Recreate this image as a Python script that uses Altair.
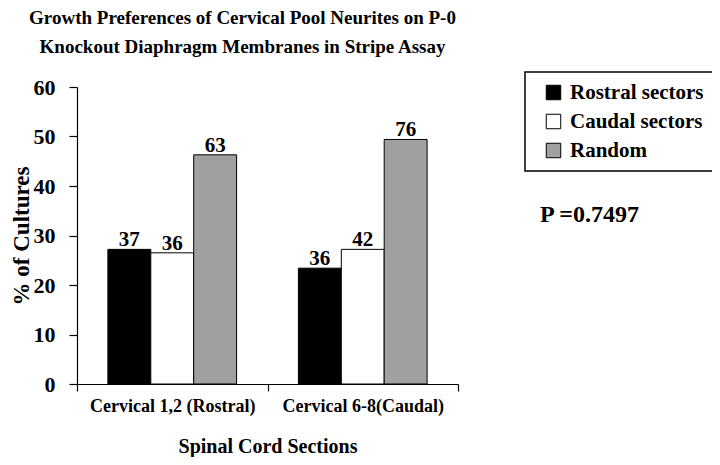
import altair as alt
import pandas as pd

groups = ["Cervical 1,2 (Rostral)", "Cervical 6-8(Caudal)"]
series = ["Rostral sectors", "Caudal sectors", "Random"]
pct_g1 = [27.2, 26.5, 46.3]
pct_g2 = [23.4, 27.2, 49.4]
counts_g1 = [37, 36, 63]
counts_g2 = [36, 42, 76]
colors = ["#000000", "#ffffff", "#a0a0a0"]
p_text = "P =0.7497"

rows = []
for g, pcts, cnts in [(groups[0], pct_g1, counts_g1), (groups[1], pct_g2, counts_g2)]:
    for s, p, c in zip(series, pcts, cnts):
        rows.append({"group": g, "series": s, "pct": p, "count": c})
df = pd.DataFrame(rows)

FONT = "'Liberation Serif', 'Times New Roman', Times, serif"

x_enc = alt.X("group:N", sort=groups, scale=alt.Scale(paddingInner=0, paddingOuter=0),
              axis=alt.Axis(title="Spinal Cord Sections", labelAngle=0, tickBand="extent",
                            tickSize=7, labelPadding=6, titlePadding=21,
                            labelFontSize=18, titleFontSize=20))
xo_enc = alt.XOffset("series:N", sort=series,
                     scale=alt.Scale(paddingInner=0, paddingOuter=0.72))

bars = alt.Chart(df).mark_bar(stroke="black", strokeWidth=1).encode(
    x=x_enc,
    xOffset=xo_enc,
    y=alt.Y("pct:Q", scale=alt.Scale(domain=[0, 60]),
            axis=alt.Axis(title="% of Cultures", values=[0, 10, 20, 30, 40, 50, 60],
                          grid=False, tickSize=8, labelPadding=14, titlePadding=0,
                          labelFontSize=22, titleFontSize=23)),
    color=alt.Color("series:N", sort=series,
                    scale=alt.Scale(domain=series, range=colors),
                    legend=alt.Legend(title=None, orient="none", legendX=448, legendY=-15,
                                      symbolType="square", symbolSize=210,
                                      symbolStrokeColor="black", symbolStrokeWidth=1,
                                      labelFont=FONT, labelFontSize=21, labelFontWeight="bold",
                                      labelColor="black", strokeColor="black",
                                      padding=10, rowPadding=7, symbolOffset=8,
                                      labelOffset=6)),
)

labels = alt.Chart(df).mark_text(baseline="alphabetic", dy=-3, font=FONT, fontSize=21,
                                 fontWeight="bold", color="black").encode(
    x=alt.X("group:N", sort=groups),
    xOffset=alt.XOffset("series:N", sort=series),
    y="pct:Q",
    text="count:Q",
)

ptxt = alt.Chart(pd.DataFrame({"t": [p_text]})).mark_text(
    align="left", baseline="alphabetic", font=FONT, fontSize=24, fontWeight="bold",
    color="black").encode(x=alt.value(463), y=alt.value(135), text="t:N")

chart = alt.layer(bars, labels, ptxt).properties(
    width=381, height=297,
    autosize=alt.AutoSizeParams(type="none"),
    padding={"left": 69, "top": 79, "right": 254, "bottom": 73},
    title=alt.TitleParams(
        text=["Growth Preferences of Cervical Pool Neurites on P-0",
              "Knockout Diaphragm Membranes in Stripe Assay"],
        font=FONT, fontSize=19, fontWeight="bold", color="black",
        lineHeight=29, anchor="middle", dx=-25, offset=14),
).configure_view(stroke=None).configure_axis(
    labelFont=FONT, titleFont=FONT, labelFontWeight="bold", titleFontWeight="bold",
    labelColor="black", titleColor="black", domainColor="black", tickColor="black",
    domainWidth=1.2, tickWidth=1.2,
).configure_legend(strokeWidth=1.5)

chart.save("out.html", embed_options={"renderer": "svg", "actions": False})
